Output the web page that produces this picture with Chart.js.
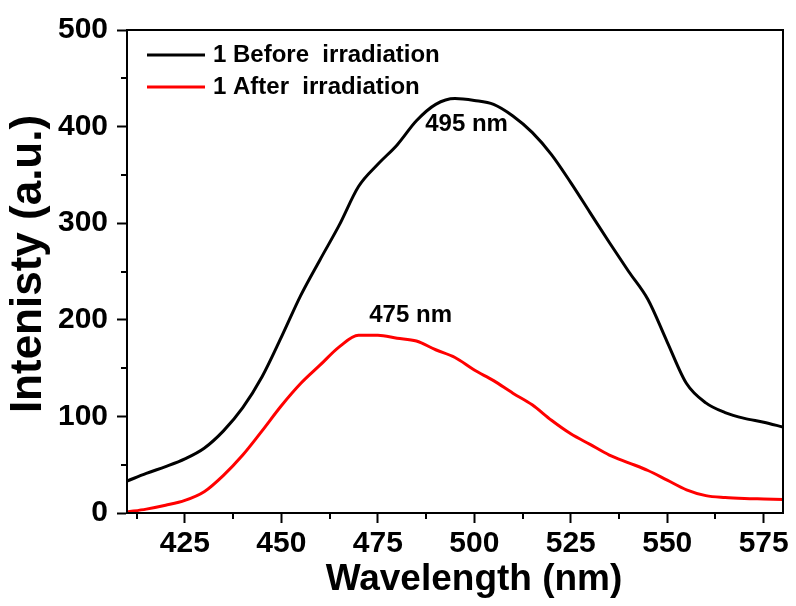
<!DOCTYPE html>
<html>
<head>
<meta charset="utf-8">
<script src="https://cdn.jsdelivr.net/npm/chart.js"></script>
<style>
  html, body { margin: 0; padding: 0; background: #fff; }
</style>
</head>
<body>
<canvas id="spectrum" width="796" height="606"></canvas>
<script>
// emission spectra, every 5 nm
const wavelength = [410, 415, 420, 425, 430, 435, 440, 445, 450, 455, 460, 465, 470, 475, 480, 485, 490, 495,
  500, 505, 510, 515, 520, 525, 530, 535, 540, 545, 550, 555, 560, 565, 570, 575, 580];
const beforeIrr = [33, 41, 48, 56, 67, 85, 109, 141, 182, 225, 262, 298, 338, 361, 381, 406, 423, 429,
  427, 423, 411, 394, 371, 342, 311, 280, 250, 221, 177, 134, 114, 104, 98, 94, 89];
const afterIrr = [1, 4, 8, 13, 22, 39, 60, 85, 111, 134, 153, 172, 184, 184, 181, 178, 169, 161,
  148, 137, 124, 112, 96, 82, 71, 60, 52, 44, 34, 24, 18, 16, 15, 14.5, 14];
const seriesNames = ['1 Before  irradiation', '1 After  irradiation'];

const xTicks = [425, 450, 475, 500, 525, 550, 575];
const xMinorTicks = [412.5, 437.5, 462.5, 487.5, 512.5, 537.5, 562.5];
const yTicks = [0, 100, 200, 300, 400, 500];
const yMinorTicks = [50, 150, 250, 350, 450];

const xTitle = 'Wavelength (nm)';
const yTitle = 'Intenisty (a.u.)';

// peak labels: text, wavelength, intensity
const peakText = ['495 nm', '475 nm'];
const peakX = [498, 483.5];
const peakY = [402, 205];

const FONT = "'Liberation Sans', Arial, sans-serif";

// box frame, minor ticks, legend, axis titles and peak labels
const decorations = {
  id: 'decorations',
  afterDraw(chart) {
    const ctx = chart.ctx;
    const {left, top, right, bottom} = chart.chartArea;
    const xs = chart.scales.x, ys = chart.scales.y;
    ctx.save();
    ctx.strokeStyle = '#000';
    ctx.lineWidth = 2;
    ctx.strokeRect(left, top, right - left, bottom - top);

    ctx.beginPath();
    xMinorTicks.forEach(v => {
      const px = Math.round(xs.getPixelForValue(v));
      ctx.moveTo(px, bottom);
      ctx.lineTo(px, bottom + 6);
    });
    yMinorTicks.forEach(v => {
      const py = Math.round(ys.getPixelForValue(v));
      ctx.moveTo(left - 6, py);
      ctx.lineTo(left, py);
    });
    ctx.stroke();

    // legend
    ctx.font = 'bold 24px ' + FONT;
    ctx.textBaseline = 'middle';
    ctx.textAlign = 'left';
    chart.data.datasets.forEach((ds, i) => {
      const y = top + 25 + i * 32;
      ctx.strokeStyle = ds.borderColor;
      ctx.lineWidth = 3;
      ctx.beginPath();
      ctx.moveTo(left + 20, y);
      ctx.lineTo(left + 78, y);
      ctx.stroke();
      ctx.fillStyle = '#000';
      ctx.fillText(ds.label, left + 86, y);
    });

    // peak labels
    ctx.textAlign = 'center';
    ctx.fillStyle = '#000';
    peakText.forEach((t, i) => {
      ctx.fillText(t, xs.getPixelForValue(peakX[i]), ys.getPixelForValue(peakY[i]));
    });

    // axis titles
    ctx.font = 'bold 37px ' + FONT;
    ctx.fillText(xTitle, 474, 580);
    ctx.translate(29, 264);
    ctx.rotate(-Math.PI / 2);
    ctx.font = 'bold 44px ' + FONT;
    ctx.fillText(yTitle, 0, 0);
    ctx.restore();
  }
};

new Chart(document.getElementById('spectrum'), {
  type: 'line',
  data: {
    datasets: [
      {
        label: seriesNames[0],
        data: wavelength.map((w, i) => ({x: w, y: beforeIrr[i]})),
        borderColor: '#000000',
        borderWidth: 3,
        pointRadius: 0,
        cubicInterpolationMode: 'monotone'
      },
      {
        label: seriesNames[1],
        data: wavelength.map((w, i) => ({x: w, y: afterIrr[i]})),
        borderColor: '#ff0000',
        borderWidth: 3,
        pointRadius: 0,
        cubicInterpolationMode: 'monotone'
      }
    ]
  },
  options: {
    responsive: false,
    animation: false,
    layout: { padding: { left: 0, right: 13, top: 30, bottom: 0 } },
    plugins: {
      legend: { display: false },
      tooltip: { enabled: false }
    },
    scales: {
      x: {
        type: 'linear',
        min: 410,
        max: 580,
        afterBuildTicks: s => { s.ticks = xTicks.map(v => ({value: v})); },
        afterFit: s => { s.height = 93; s.paddingLeft = 0; s.paddingRight = 0; },
        grid: { drawOnChartArea: false, tickLength: 10, tickWidth: 2, tickColor: '#000' },
        border: { display: true, color: '#000', width: 2 },
        ticks: {
          color: '#000',
          padding: 3,
          maxRotation: 0,
          font: { family: FONT, weight: 'bold', size: 30 }
        }
      },
      y: {
        min: 0,
        max: 500,
        afterBuildTicks: s => { s.ticks = yTicks.map(v => ({value: v})); },
        afterFit: s => { s.width = 127; s.paddingTop = 0; s.paddingBottom = 0; },
        grid: { drawOnChartArea: false, tickLength: 10, tickWidth: 2, tickColor: '#000' },
        border: { display: true, color: '#000', width: 2 },
        ticks: {
          color: '#000',
          padding: 9,
          font: { family: FONT, weight: 'bold', size: 30 }
        }
      }
    }
  },
  plugins: [decorations]
});
</script>
</body>
</html>
